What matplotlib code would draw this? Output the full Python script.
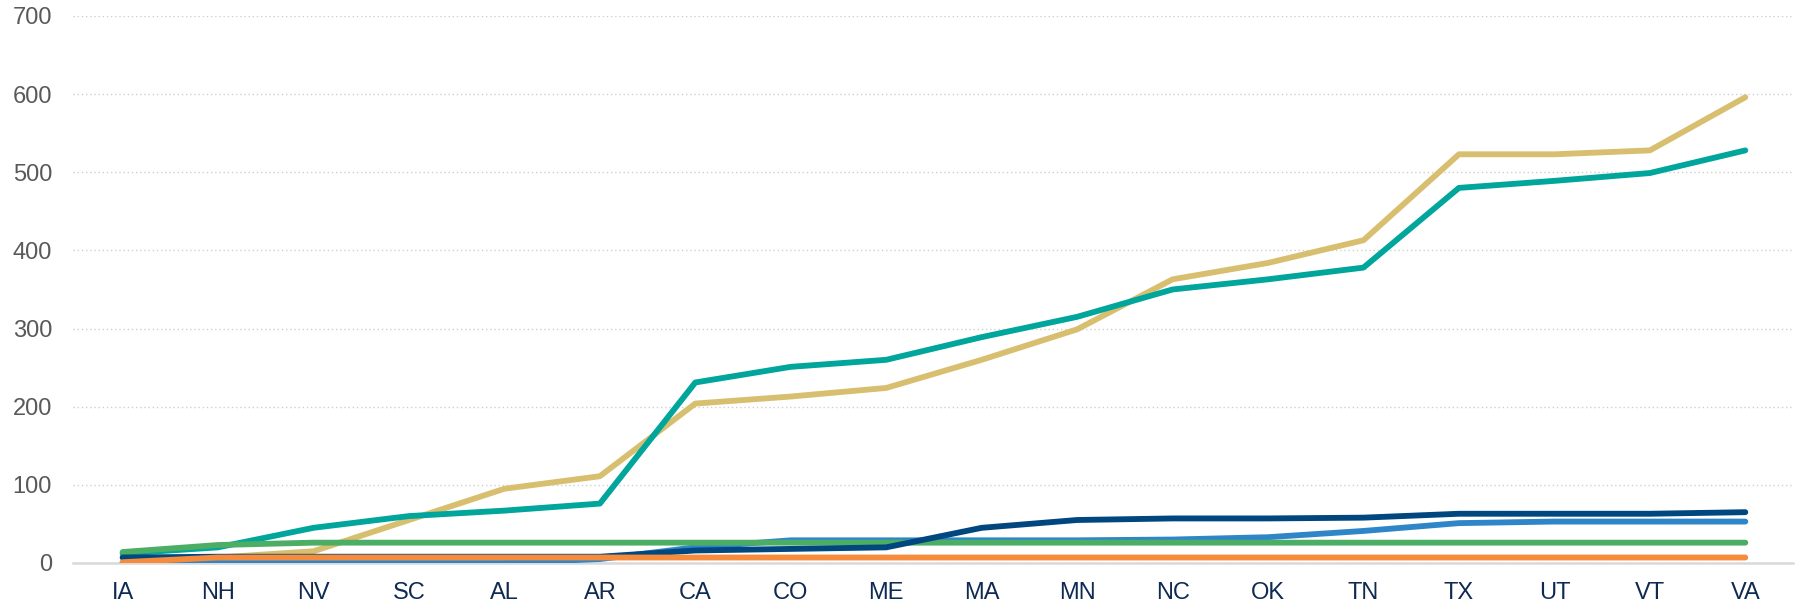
import matplotlib
matplotlib.use("Agg")
import matplotlib.pyplot as plt

# data
states = ["IA", "NH", "NV", "SC", "AL", "AR", "CA", "CO", "ME", "MA",
          "MN", "NC", "OK", "TN", "TX", "UT", "VT", "VA"]
tan_vals = [0, 7, 15, 55, 95, 111, 204, 213, 224, 260, 299, 363, 384, 413, 523, 523, 528, 596]
teal_vals = [12, 20, 45, 60, 67, 76, 231, 251, 260, 289, 315, 350, 363, 378, 480, 489, 499, 528]
navy_vals = [7, 8, 8, 8, 8, 8, 16, 18, 20, 45, 55, 57, 57, 58, 63, 63, 63, 65]
blue_vals = [0, 0, 0, 0, 0, 5, 20, 29, 29, 29, 29, 30, 33, 41, 51, 53, 53, 53]
green_vals = [14, 23, 26, 26, 26, 26, 26, 26, 26, 26, 26, 26, 26, 26, 26, 26, 26, 26]
orange_vals = [1, 7, 7, 7, 7, 7, 7, 7, 7, 7, 7, 7, 7, 7, 7, 7, 7, 7]
y_ticks = [0, 100, 200, 300, 400, 500, 600, 700]

plt.rcParams['font.family'] = ['Liberation Sans', 'DejaVu Sans']

fig = plt.figure(figsize=(17.97, 6.12), dpi=100)
ax = fig.add_axes([0.0406, 0.0801, 0.9572, 0.8938])

x = list(range(len(states)))
series = [
    (tan_vals, "#D8BF70"),
    (teal_vals, "#00A59B"),
    (blue_vals, "#2E86C8"),
    (green_vals, "#4BAE64"),
    (navy_vals, "#00467F"),
    (orange_vals, "#F68B3C"),
]
for i, (vals, col) in enumerate(series):
    ax.plot(x, vals, color=col, linewidth=4.2, solid_capstyle="round",
            solid_joinstyle="round", zorder=3 + i)

ax.set_xlim(-0.52, 17.5)
ax.set_ylim(0, 700)
ax.set_yticks(y_ticks)
ax.set_xticks(x)
ax.set_xticklabels(states)

ax.grid(axis="y", linestyle=(0, (1, 2)), color="#CFCFCF", linewidth=1.0, zorder=0)
for s in ["top", "right", "left"]:
    ax.spines[s].set_visible(False)
ax.spines["bottom"].set_color("#D9D9D9")
ax.spines["bottom"].set_linewidth(1.8)
ax.spines["bottom"].set_zorder(1)

ax.tick_params(axis="both", length=0)
ax.tick_params(axis="y", labelsize=17, labelcolor="#595959", pad=15)
ax.tick_params(axis="x", labelsize=17, labelcolor="#0E2A52", pad=14)

plt.savefig("out.png", dpi=100)
